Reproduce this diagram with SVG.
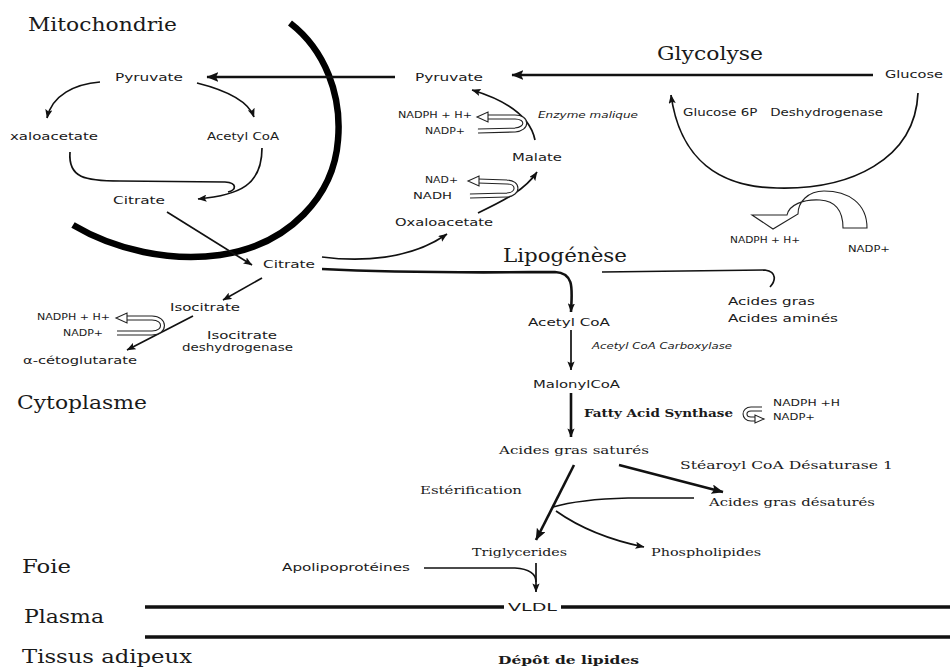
<svg xmlns="http://www.w3.org/2000/svg" width="950" height="668" viewBox="0 0 950 668">
<style>
text{fill:#1a1a1a}
.big{font-family:"DejaVu Serif","Liberation Serif",serif;font-size:19px}
.s{font-family:"DejaVu Sans","Liberation Sans",sans-serif;font-size:10px}
.t{font-family:"DejaVu Sans","Liberation Sans",sans-serif;font-size:8px}
.e{font-family:"DejaVu Sans","Liberation Sans",sans-serif;font-size:11px}
.i{font-family:"DejaVu Sans","Liberation Sans",sans-serif;font-size:9px;font-style:italic}
.m{font-family:"DejaVu Serif","Liberation Serif",serif;font-size:10.5px}
.b{font-weight:bold}
.ln{fill:none;stroke:#111;stroke-width:1.7}
.th{fill:none;stroke:#111;stroke-width:2.6}
.mem{fill:none;stroke:#000;stroke-width:6.5;stroke-linecap:butt}
.pl{fill:none;stroke:#111;stroke-width:3.5}
.hb{fill:none;stroke:#222;stroke-width:5}
.hw{fill:none;stroke:#fff;stroke-width:2.8}
.hh{fill:#fff;stroke:#222;stroke-width:1.1}
</style>
<defs>
<marker id="a" viewBox="0 0 10 8" refX="9.5" refY="4" markerWidth="9" markerHeight="7.2" markerUnits="userSpaceOnUse" orient="auto"><path d="M0,0 L10,4 L0,8 L2,4 z" fill="#111"/></marker>
<marker id="A" viewBox="0 0 10 8" refX="9.5" refY="4" markerWidth="12" markerHeight="9.6" markerUnits="userSpaceOnUse" orient="auto"><path d="M0,0 L10,4 L0,8 L2,4 z" fill="#111"/></marker>
</defs>
<rect width="950" height="668" fill="#fff"/>

<g id="connectors">
  <path class="mem" d="M290,23 C325,50 342,95 338,140 C334,195 290,245 220,255 C170,262 115,250 73,225"/>
  <path class="th" d="M873,75 L512,75" marker-end="url(#A)"/>
  <path class="th" d="M395,77 L207,77" stroke-width="3" marker-end="url(#A)"/>
  <path class="ln" d="M100,82 C75,84 52,95 47,118" marker-end="url(#a)"/>
  <path class="ln" d="M197,83 C225,90 248,100 254,117" marker-end="url(#a)"/>
  <path class="ln" d="M70,152 C68,178 85,181 120,181 L225,182 C238,183 236,190 228,192"/>
  <path class="ln" d="M262,148 C262,185 240,195 198,199" marker-end="url(#a)"/>
  <path class="ln" d="M167,212 L252,265" marker-end="url(#a)"/>
  <path class="ln" d="M262,278 L223,300" stroke-width="2" marker-end="url(#a)"/>
  <path class="ln" d="M193,316 L127,350" stroke-width="2" marker-end="url(#a)"/>
  <path class="ln" d="M322,257 C360,262 410,260 447,234" marker-end="url(#a)"/>
  <path class="th" d="M322,269 C420,274 520,272 555,272 C575,273 572,290 571,312" marker-end="url(#a)"/>
  <path class="ln" d="M602,272 L765,270 C778,272 775,282 770,287"/>
  <path class="ln" d="M571,330 L571,370" stroke-width="2" marker-end="url(#a)"/>
  <path class="th" d="M571,393 L571,437" marker-end="url(#a)"/>
  <path class="ln" d="M478,213 C505,200 525,190 537,172" marker-end="url(#a)"/>
  <path class="ln" d="M535,140 C530,115 505,100 472,90" marker-end="url(#a)"/>
  <path class="ln" d="M918,93 C915,160 850,190 777,188 C720,187 680,160 671,95" stroke-width="2" marker-end="url(#a)"/>
  <path class="th" d="M574,465 L536,540" stroke-width="3" marker-end="url(#A)"/>
  <path class="th" d="M619,465 L723,492" stroke-width="3" marker-end="url(#A)"/>
  <path class="ln" d="M694,498 L628,498 C590,499 570,502 553,507" stroke-width="2"/>
  <path class="ln" d="M556,511 C580,528 610,540 644,547" stroke-width="2" marker-end="url(#a)"/>
  <path class="ln" d="M424,568 L515,568 C530,569 536,574 536,582"/>
  <path class="ln" d="M536,563 L536,592" stroke-width="2" marker-end="url(#a)"/>
  <path class="pl" d="M145,607 L504,607 M561,607 L950,607 M145,637 L950,637"/>
  <!-- hollow U-turn arrows -->
  <path class="hb" d="M117,333 L152,333 C166,333 166,318 152,318 L126,318"/>
  <path class="hw" d="M117,333 L152,333 C166,333 166,318 152,318 L126,318"/>
  <polygon class="hh" points="116,318 127,313 127,323"/>
  <path class="hb" d="M478,131 L515,130 C528,129 528,117 515,117 L487,117"/>
  <path class="hw" d="M478,131 L515,130 C528,129 528,117 515,117 L487,117"/>
  <polygon class="hh" points="477,117 488,112 488,122"/>
  <path class="hb" d="M470,196 L507,195 C519,194 519,182 507,182 L478,181"/>
  <path class="hw" d="M470,196 L507,195 C519,194 519,182 507,182 L478,181"/>
  <polygon class="hh" points="468,181 479,176 479,186"/>
  <path class="hb" d="M762,409 L751,409 C743,409 743,419 751,419 L756,419" stroke-width="4"/>
  <path class="hw" d="M762,409 L751,409 C743,409 743,419 751,419 L756,419" stroke-width="2"/>
  <polygon class="hh" points="764,419 755,415 755,423"/>
  <path class="hh" d="M843,228 L867,228 C867,203 848,191 824,191 C808,191 798,202 798,214 L773,229 L752,215 L787,215 C789,205 803,199 820,200 C836,201 843,212 843,228 Z" stroke-width="1.4"/>
</g>

<g id="labels-regions">
  <text class="big" x="28" y="31" textLength="149" lengthAdjust="spacingAndGlyphs">Mitochondrie</text>
  <text class="big" x="657" y="60" textLength="106" lengthAdjust="spacingAndGlyphs">Glycolyse</text>
  <text class="big" x="503" y="262" textLength="124" lengthAdjust="spacingAndGlyphs">Lipogénèse</text>
  <text class="big" x="17" y="409" textLength="130" lengthAdjust="spacingAndGlyphs">Cytoplasme</text>
  <text class="big" x="22" y="573" textLength="49" lengthAdjust="spacingAndGlyphs">Foie</text>
  <text class="big" x="24" y="623" textLength="80" lengthAdjust="spacingAndGlyphs">Plasma</text>
  <text class="big" x="22" y="663" textLength="170" lengthAdjust="spacingAndGlyphs">Tissus adipeux</text>
</g>

<g id="n-pyruvate-mito"><text class="s" x="115" y="81" textLength="68" lengthAdjust="spacingAndGlyphs">Pyruvate</text></g>
<g id="n-oxalo-mito"><text class="s" x="10" y="140" textLength="88" lengthAdjust="spacingAndGlyphs">xaloacetate</text></g>
<g id="n-acetyl-mito"><text class="s" x="207" y="140" textLength="72" lengthAdjust="spacingAndGlyphs">Acetyl CoA</text></g>
<g id="n-citrate-mito"><text class="s" x="113" y="204" textLength="52" lengthAdjust="spacingAndGlyphs">Citrate</text></g>
<g id="n-citrate-cyto"><text class="s" x="263" y="268" textLength="52" lengthAdjust="spacingAndGlyphs">Citrate</text></g>
<g id="n-isocitrate"><text class="s" x="170" y="311" textLength="70" lengthAdjust="spacingAndGlyphs">Isocitrate</text></g>
<g id="n-akg"><text class="s" x="23" y="364" textLength="114" lengthAdjust="spacingAndGlyphs">α-cétoglutarate</text></g>
<g id="n-idh">
  <text class="e" x="207" y="339" textLength="70" lengthAdjust="spacingAndGlyphs">Isocitrate</text>
  <text class="e" x="182" y="351" textLength="111" lengthAdjust="spacingAndGlyphs">deshydrogenase</text>
</g>
<g id="n-cof-idh">
  <text class="t" x="37" y="320" textLength="73" lengthAdjust="spacingAndGlyphs">NADPH + H+</text>
  <text class="t" x="63" y="336" textLength="40" lengthAdjust="spacingAndGlyphs">NADP+</text>
</g>
<g id="n-pyruvate-cyto"><text class="s" x="415" y="81" textLength="68" lengthAdjust="spacingAndGlyphs">Pyruvate</text></g>
<g id="n-cof-me">
  <text class="t" x="398" y="118" textLength="74" lengthAdjust="spacingAndGlyphs">NADPH + H+</text>
  <text class="t" x="425" y="134" textLength="40" lengthAdjust="spacingAndGlyphs">NADP+</text>
</g>
<g id="n-enzyme-malique"><text class="i" x="538" y="118" textLength="100" lengthAdjust="spacingAndGlyphs">Enzyme malique</text></g>
<g id="n-malate"><text class="s" x="512" y="161" textLength="50" lengthAdjust="spacingAndGlyphs">Malate</text></g>
<g id="n-cof-mdh">
  <text class="t" x="425" y="183" textLength="33" lengthAdjust="spacingAndGlyphs">NAD+</text>
  <text class="t" x="413" y="199" textLength="39" lengthAdjust="spacingAndGlyphs">NADH</text>
</g>
<g id="n-oxalo-cyto"><text class="s" x="395" y="226" textLength="98" lengthAdjust="spacingAndGlyphs">Oxaloacetate</text></g>
<g id="n-glucose"><text class="s" x="885" y="78" textLength="58" lengthAdjust="spacingAndGlyphs">Glucose</text></g>
<g id="n-g6pd"><text class="s" x="683" y="116" textLength="200" lengthAdjust="spacingAndGlyphs" xml:space="preserve">Glucose 6P   Deshydrogenase</text></g>
<g id="n-cof-g6pd">
  <text class="t" x="730" y="243" textLength="70" lengthAdjust="spacingAndGlyphs">NADPH + H+</text>
  <text class="t" x="848" y="252" textLength="42" lengthAdjust="spacingAndGlyphs">NADP+</text>
</g>
<g id="n-acides">
  <text class="s" x="728" y="305" textLength="87" lengthAdjust="spacingAndGlyphs">Acides gras</text>
  <text class="s" x="728" y="322" textLength="110" lengthAdjust="spacingAndGlyphs">Acides aminés</text>
</g>
<g id="n-acetyl-cyto"><text class="s" x="528" y="326" textLength="82" lengthAdjust="spacingAndGlyphs">Acetyl CoA</text></g>
<g id="n-acc"><text class="i" x="592" y="349" textLength="140" lengthAdjust="spacingAndGlyphs">Acetyl CoA Carboxylase</text></g>
<g id="n-malonyl"><text class="s" x="533" y="388" textLength="87" lengthAdjust="spacingAndGlyphs">MalonylCoA</text></g>
<g id="n-fas"><text class="m b" x="584" y="417" textLength="149" lengthAdjust="spacingAndGlyphs">Fatty Acid Synthase</text></g>
<g id="n-cof-fas">
  <text class="t" x="773" y="406" textLength="67" lengthAdjust="spacingAndGlyphs">NADPH +H</text>
  <text class="t" x="773" y="420" textLength="42" lengthAdjust="spacingAndGlyphs">NADP+</text>
</g>
<g id="n-ags"><text class="m" x="499" y="454" textLength="150" lengthAdjust="spacingAndGlyphs">Acides gras saturés</text></g>
<g id="n-scd1"><text class="m" x="680" y="469" textLength="213" lengthAdjust="spacingAndGlyphs" font-size="11.5">Stéaroyl CoA Désaturase 1</text></g>
<g id="n-esterif"><text class="m" x="420" y="494" textLength="102" lengthAdjust="spacingAndGlyphs">Estérification</text></g>
<g id="n-agd"><text class="m" x="709" y="506" textLength="166" lengthAdjust="spacingAndGlyphs">Acides gras désaturés</text></g>
<g id="n-tg"><text class="m" x="472" y="556" textLength="95" lengthAdjust="spacingAndGlyphs">Triglycerides</text></g>
<g id="n-pl"><text class="m" x="651" y="556" textLength="110" lengthAdjust="spacingAndGlyphs">Phospholipides</text></g>
<g id="n-apo"><text class="s" x="282" y="571" textLength="128" lengthAdjust="spacingAndGlyphs" font-size="9">Apolipoprotéines</text></g>
<g id="n-vldl"><text class="s" x="508" y="611" textLength="49" lengthAdjust="spacingAndGlyphs" font-size="11">VLDL</text></g>
<g id="n-depot"><text class="m b" x="498" y="664" textLength="141" lengthAdjust="spacingAndGlyphs">Dépôt de lipides</text></g>
</svg>
